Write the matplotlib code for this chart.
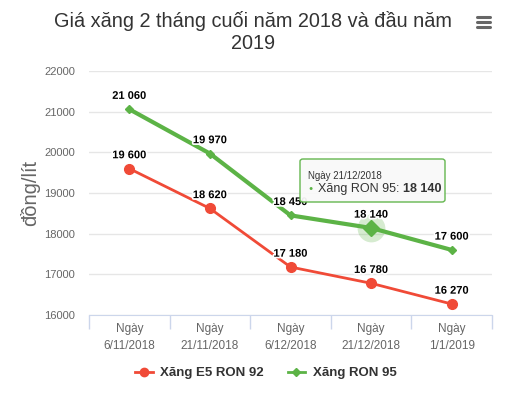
import numpy as np
import matplotlib
matplotlib.use("Agg")
from matplotlib import pyplot as plt
from matplotlib.patches import FancyBboxPatch
from matplotlib.lines import Line2D
import matplotlib.patheffects as pe

# dữ liệu
ngay = ["6/11/2018", "21/11/2018", "6/12/2018", "21/12/2018", "1/1/2019"]
e5_ron92 = [19600, 18620, 17180, 16780, 16270]
ron95 = [21060, 19970, 18450, 18140, 17600]

red = "#f04a37"
green = "#5cb346"

plt.rcParams["font.family"] = ["Liberation Sans", "DejaVu Sans"]

fig = plt.figure(figsize=(5.08, 3.94), dpi=100)
ax = fig.add_axes([89 / 508, 1 - 315 / 394, 403 / 508, 244 / 394])

x = np.arange(len(ngay))
ax.plot(x, e5_ron92, color=red, lw=2, marker="o", ms=7, zorder=3)
ax.plot(x, ron95, color=green, lw=3, marker="D", ms=4.5, zorder=3)

# điểm đang được trỏ chuột
ax.plot(x[3], ron95[3], "o", ms=20, color=green, alpha=0.25, mec="none", zorder=2)
ax.plot(x[3], ron95[3], "D", ms=8, color=green, zorder=4)

def fmt(v):
    return f"{v:,}".replace(",", " ")

outline = [pe.withStroke(linewidth=2.5, foreground="white")]
for ys in (e5_ron92, ron95):
    for xi, yi in zip(x, ys):
        ax.annotate(fmt(yi), (xi, yi), xytext=(0, 6), textcoords="offset points",
                    ha="center", va="bottom", fontsize=8, fontweight="bold",
                    color="black", path_effects=outline, zorder=5)

ax.set_xlim(-0.5, 4.5)
ax.set_ylim(16000, 22000)
ax.set_yticks(np.arange(16000, 22001, 1000))
ax.set_yticklabels([str(v) for v in range(16000, 22001, 1000)], color="#666666", fontsize=8)
ax.tick_params(axis="y", length=0, pad=10)
ax.grid(axis="y", color="#e6e6e6", lw=1)
ax.set_axisbelow(True)

ax.set_xticks(x)
ax.set_xticklabels(["Ngày\n" + d for d in ngay], color="#666666", fontsize=8.5, linespacing=1.5)
ax.tick_params(axis="x", length=0, pad=6)
ax.set_xticks(np.arange(-0.5, 5, 1), minor=True)
ax.tick_params(axis="x", which="minor", length=10, color="#ccd6eb", width=1)

for s in ["left", "right", "top"]:
    ax.spines[s].set_visible(False)
ax.spines["bottom"].set_color("#ccd6eb")

ax.set_ylabel("đồng/lít", fontsize=14.5, color="#666666", labelpad=3)

fig.text(253 / 508, 1 - 32 / 394, "Giá xăng 2 tháng cuối năm 2018 và đầu năm\n2019",
         ha="center", va="center", fontsize=14.3, color="#333333", linespacing=1.15)

# biểu tượng menu
for dy in (-5, 0, 5):
    fig.add_artist(Line2D([477 / 508, 490 / 508], [1 - (22 + dy) / 394] * 2,
                          color="#666666", lw=2.2, solid_capstyle="round"))

# tooltip
box = FancyBboxPatch((300 / 508, 1 - 202 / 394), 145 / 508, 43 / 394,
                     boxstyle="round,pad=0,rounding_size=0.006",
                     transform=fig.transFigure, fc="#f9f9f9", ec=green, lw=1, alpha=0.95,
                     zorder=10)
fig.add_artist(box)
fig.text(308 / 508, 1 - 176 / 394, "Ngày 21/12/2018", fontsize=7, color="#333333",
         va="center", zorder=11)
fig.text(308 / 508, 1 - 189 / 394, "●", fontsize=5, color=green, va="center", zorder=11)
t = fig.text(318 / 508, 1 - 189 / 394, "Xăng RON 95: ", fontsize=9, color="#333333",
             va="center", zorder=11)
fig.canvas.draw()
bb = t.get_window_extent()
fig.text(bb.x1 / 508, 1 - 189 / 394, "18 140", fontsize=9, color="#333333",
         fontweight="bold", va="center", zorder=11)

# chú giải
handles = [Line2D([], [], color=red, lw=2, marker="o", ms=6),
           Line2D([], [], color=green, lw=2, marker="D", ms=4)]
fig.legend(handles, ["Xăng E5 RON 92", "Xăng RON 95"], loc="center",
           bbox_to_anchor=(266 / 508, 1 - 373 / 394), ncol=2, frameon=False,
           prop={"size": 9.5, "weight": "bold"}, labelcolor="#333333",
           handlelength=1.3, columnspacing=1.8, handletextpad=0.6)

fig.savefig("out.png", dpi=100)
